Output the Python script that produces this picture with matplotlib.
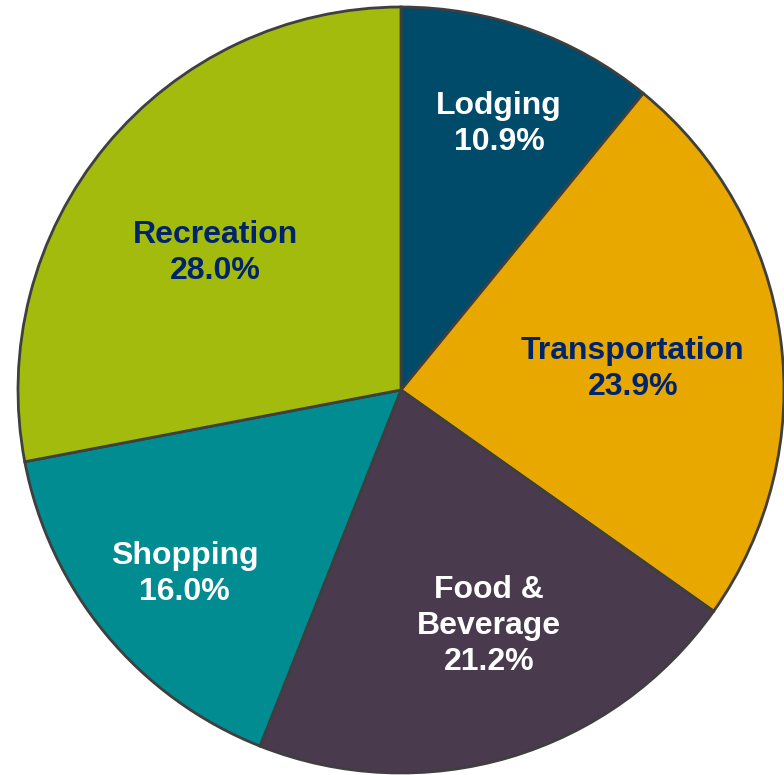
import numpy as np
import matplotlib.pyplot as plt

# Spending shares by category
categories = ['Lodging', 'Transportation', 'Food &\nBeverage', 'Shopping', 'Recreation']
shares = [10.9, 23.9, 21.2, 16.0, 28.0]
colors = ['#004a6a', '#e9a800', '#4a3a4d', '#008c90', '#a3bb0c']
text_colors = ['white', '#00246b', 'white', 'white', '#00246b']
# label placement: fraction of radius, angle nudge (deg) from wedge middle
label_radius = [0.740, 0.608, 0.658, 0.741, 0.603]
label_nudge = [-0.6, -2.5, 3.9, 0.8, 3.2]

fig = plt.figure(figsize=(7.84, 7.75), dpi=100)
R = 383
cx, cy = 401, 775 - 390
ax = fig.add_axes([(cx - R) / 784, (cy - R) / 775, 2 * R / 784, 2 * R / 775])

wedges, _ = ax.pie(shares, colors=colors, startangle=90, counterclock=False,
                   wedgeprops=dict(edgecolor='#3f3f3f', linewidth=2))
ax.set_xlim(-1, 1)
ax.set_ylim(-1, 1)
ax.set_aspect('auto')
ax.axis('off')

for w, name, val, tc, r, nd in zip(wedges, categories, shares, text_colors,
                                   label_radius, label_nudge):
    ang = np.deg2rad((w.theta1 + w.theta2) / 2 + nd)
    ax.text(r * np.cos(ang), r * np.sin(ang), f'{name}\n{val:.1f}%',
            ha='center', va='center', color=tc, fontsize=23,
            fontweight='bold', family='Liberation Sans', linespacing=1.25)

fig.savefig('out.png', dpi=100)
